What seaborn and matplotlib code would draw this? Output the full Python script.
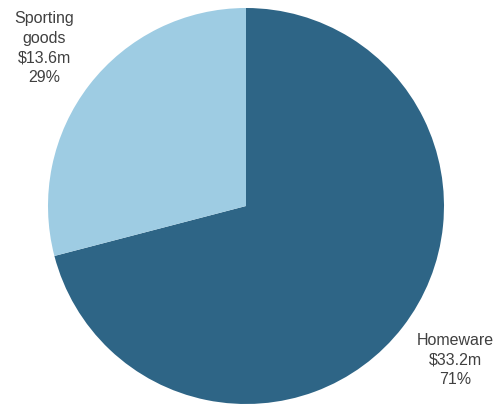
import matplotlib
matplotlib.use("Agg")
import matplotlib.pyplot as plt
import seaborn as sns

sns.set_theme(style="white")
plt.rcParams["font.family"] = ["Liberation Sans", "DejaVu Sans"]

categories = ["Homeware", "Sporting goods"]
sales_m = [33.2, 13.6]
label_names = ["Homeware", "Sporting\ngoods"]
colors = ["#2E6586", "#9ECCE3"]

W, H = 502, 406
fig = plt.figure(figsize=(W / 100, H / 100), dpi=100)
fig.patch.set_facecolor("white")

# pie axes: centre (246, 207) px, radius 198 px
cx, cy, r = 246, 207, 198
ax = fig.add_axes([(cx - r) / W, (H - cy - r) / H, 2 * r / W, 2 * r / H])
wedges, _ = ax.pie(sales_m, colors=colors, startangle=90, counterclock=False,
                   radius=1.0, wedgeprops=dict(linewidth=0))
ax.set_xlim(-1, 1)
ax.set_ylim(-1, 1)
ax.set_aspect("equal")
ax.axis("off")

total = sum(sales_m)
label_pos = [(455, 360), (44, 48)]  # pixel centres of the text blocks
for name, val, (px, py) in zip(label_names, sales_m, label_pos):
    pct = round(val / total * 100)
    fig.text(px / W, 1 - py / H, f"{name}\n${val}m\n{pct}%",
             ha="center", va="center", fontsize=11.5, color="#404040",
             linespacing=1.38)

fig.savefig("out.png", dpi=100, facecolor="white")
